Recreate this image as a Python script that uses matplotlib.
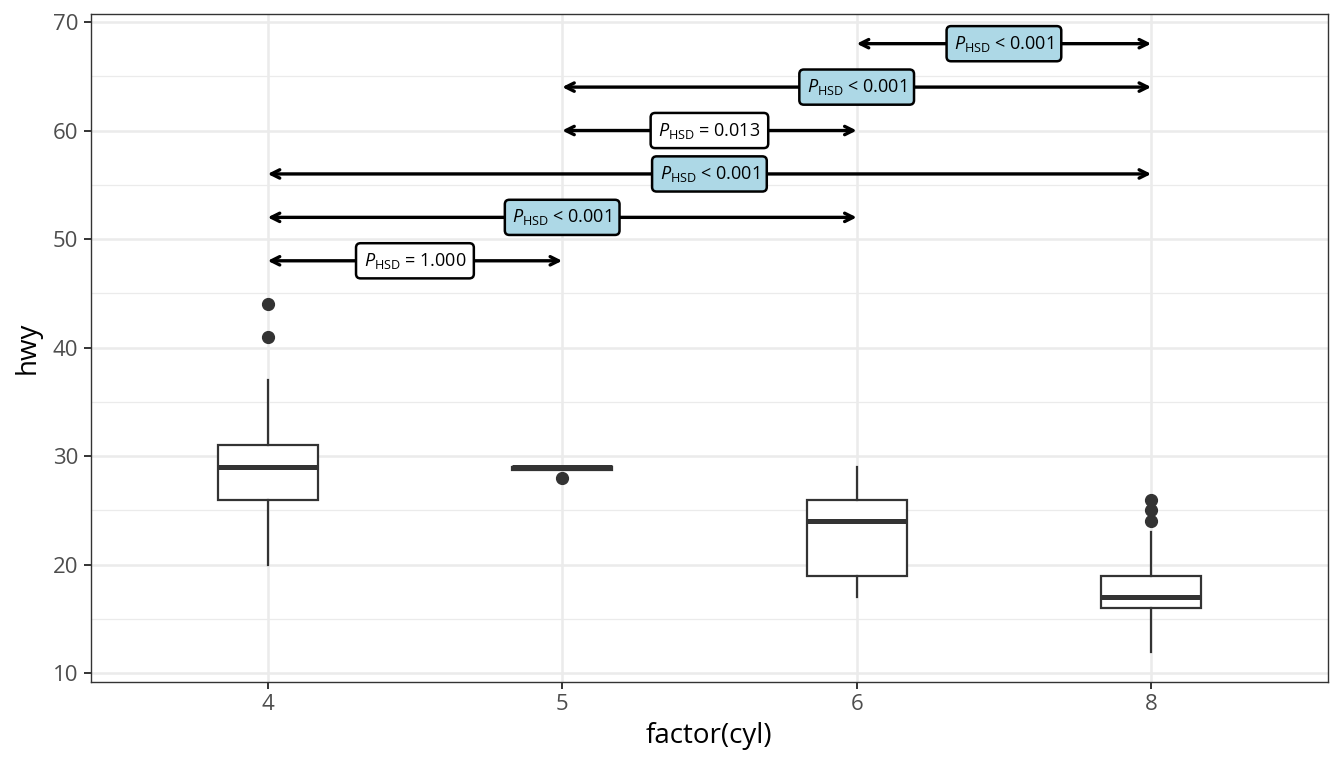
import matplotlib
matplotlib.use("Agg")
import matplotlib.pyplot as plt
from matplotlib.ticker import MultipleLocator

plt.rcParams['font.family'] = ['Open Sans', 'DejaVu Sans']
plt.rcParams['mathtext.fontset'] = 'custom'
plt.rcParams['mathtext.rm'] = 'Open Sans'
plt.rcParams['mathtext.it'] = 'Open Sans:italic'

# Data
categories = ['4', '5', '6', '8']
whislo = [20, 28.75, 17, 12]
q1 = [26, 28.75, 19, 16]
med = [29, 29, 24, 17]
q3 = [31, 29, 26, 19]
whishi = [37, 29, 29, 23]
fliers = [[41, 44], [28], [], [24, 25, 26]]

comp_from = ['4', '4', '4', '5', '5', '6']
comp_to = ['5', '6', '8', '6', '8', '8']
comp_y = [48, 52, 56, 60, 64, 68]
comp_label = ['= 1.000', '< 0.001', '< 0.001', '= 0.013', '< 0.001', '< 0.001']
comp_sig = [False, True, True, False, True, True]

fig = plt.figure(figsize=(13.44, 7.68), dpi=100)
ax = fig.add_axes([0.0677, 0.112, 0.9203, 0.870])

pos = list(range(1, len(categories) + 1))
stats = []
for i in range(len(categories)):
    stats.append(dict(whislo=whislo[i], q1=q1[i], med=med[i], q3=q3[i],
                      whishi=whishi[i], fliers=fliers[i], label=categories[i]))
col = '#333333'
ax.bxp(stats, positions=pos, widths=0.34, showcaps=False, patch_artist=True,
       boxprops=dict(facecolor='white', edgecolor=col, linewidth=1.6),
       whiskerprops=dict(color=col, linewidth=1.6),
       medianprops=dict(color=col, linewidth=3.6, solid_capstyle='butt'),
       flierprops=dict(marker='o', markerfacecolor=col, markeredgecolor=col,
                       markersize=8.5), zorder=3)

idx = {c: i + 1 for i, c in enumerate(categories)}
for a, b, y, lab, sig in zip(comp_from, comp_to, comp_y, comp_label, comp_sig):
    xa, xb = idx[a], idx[b]
    ax.annotate('', xy=(xb, y), xytext=(xa, y),
                arrowprops=dict(arrowstyle='<->', color='black', lw=2.4,
                                mutation_scale=15, shrinkA=0, shrinkB=0),
                zorder=4)
    ax.text((xa + xb) / 2, y, r'$\it{P}_{\rm HSD}$ ' + lab, ha='center', va='center',
            fontsize=13, color='black', zorder=5,
            bbox=dict(boxstyle='round,pad=0.42,rounding_size=0.25',
                      facecolor='#ADD8E6' if sig else 'white',
                      edgecolor='black', linewidth=1.8))

ax.set_xlim(0.4, 4.6)
ax.set_ylim(9.2, 70.75)
ax.set_xticks(pos)
ax.set_xticklabels(categories)
ax.yaxis.set_major_locator(MultipleLocator(10))
ax.yaxis.set_minor_locator(MultipleLocator(5))
ax.grid(which='major', color='#EBEBEB', linewidth=1.8, zorder=0)
ax.grid(which='minor', axis='y', color='#EBEBEB', linewidth=0.9, zorder=0)
ax.set_axisbelow(True)
for s in ax.spines.values():
    s.set_color('#333333')
    s.set_linewidth(1.0)
ax.tick_params(which='major', length=5, width=1.4, color='#333333', pad=4,
               labelsize=16, labelcolor='#4D4D4D')
ax.tick_params(which='minor', length=0)
ax.set_xlabel('factor(cyl)', fontsize=20, color='black', labelpad=5)
ax.set_ylabel('hwy', fontsize=20, color='black', labelpad=8)

fig.savefig('out.png', dpi=100)
